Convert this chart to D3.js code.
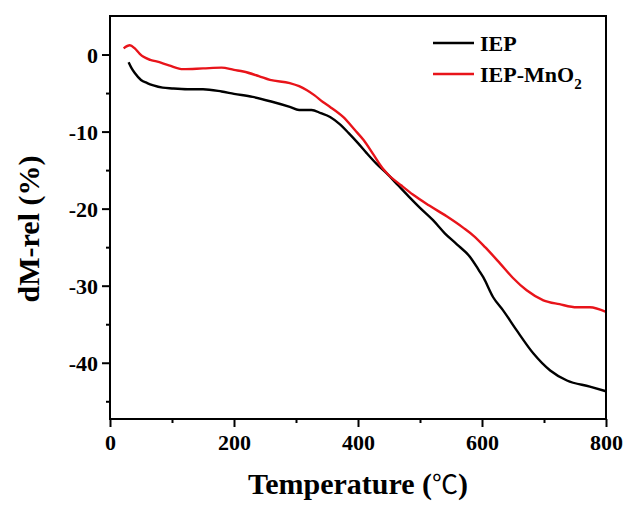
<!DOCTYPE html>
<html><head><meta charset="utf-8">
<script src="https://cdn.jsdelivr.net/npm/d3@7"></script>
<style>body{margin:0;background:#fff}text{font-family:"Liberation Serif","Times New Roman",serif;font-weight:bold}</style>
</head><body><svg id="c" width="627" height="507"></svg>
<script>
const iepT = [30,35,40,50,60,70,85,100,125,150,180,200,230,260,290,305,325,340,355,370,385,400,414,430,446,465,484,500,521,540,559,581,595,602,618,634,656,683,710,737,774,800];
const iepV = [-1.0,-1.8,-2.4,-3.3,-3.7,-4.0,-4.3,-4.4,-4.5,-4.5,-4.8,-5.1,-5.5,-6.1,-6.8,-7.2,-7.2,-7.6,-8.1,-9.0,-10.2,-11.5,-12.8,-14.2,-15.4,-17.0,-18.6,-19.9,-21.5,-23.2,-24.6,-26.3,-28.0,-28.9,-31.5,-33.2,-35.8,-38.8,-41.0,-42.3,-43.1,-43.7];
const mnT = [22,32,40,48,54,65,75,95,118,150,180,200,215,240,258,290,305,317,330,344,355,376,395,409,425,440,449,470,489,515,543,570,586,605,629,650,672,699,725,753,774,800];
const mnV = [0.8,1.2,0.8,0.1,-0.3,-0.7,-0.9,-1.4,-1.9,-1.8,-1.7,-2.0,-2.2,-2.8,-3.3,-3.7,-4.1,-4.6,-5.3,-6.2,-6.8,-8.1,-9.8,-11.1,-13.0,-14.8,-15.6,-17.0,-18.2,-19.6,-21.0,-22.5,-23.5,-25.0,-27.1,-29.0,-30.6,-31.9,-32.4,-32.8,-32.8,-33.4];
const xTicks = [0,200,400,600,800];
const yTicks = [0,-10,-20,-30,-40];
const seriesNames = ["IEP","IEP-MnO"];
const seriesColors = ["#000000","#e8141a"];

const svg = d3.select("#c");
const L=110,R=606,T=16,B=419;
const x = d3.scaleLinear().domain([0,800]).range([L,R]);
const y = d3.scaleLinear().domain([-47.3,5]).range([B,T]);

const line = d3.line().x(d=>x(d[0])).y(d=>y(d[1])).curve(d3.curveMonotoneX);
const s1 = iepT.map((t,i)=>[t,iepV[i]]);
const s2 = mnT.map((t,i)=>[t,mnV[i]]);
svg.append("path").datum(s1).attr("d",line).attr("fill","none").attr("stroke",seriesColors[0]).attr("stroke-width",2.4);
svg.append("path").datum(s2).attr("d",line).attr("fill","none").attr("stroke",seriesColors[1]).attr("stroke-width",2.4);

// frame
svg.append("rect").attr("x",L).attr("y",T).attr("width",R-L).attr("height",B-T).attr("fill","none").attr("stroke","#000").attr("stroke-width",2);

// axes
const fmt = d=>String(d);
svg.append("g").attr("transform",`translate(0,${B})`)
  .call(d3.axisBottom(x).tickValues(xTicks).tickSize(8).tickPadding(7).tickFormat(fmt));
svg.append("g").attr("transform",`translate(0,${B})`)
  .call(d3.axisBottom(x).tickValues([100,300,500,700]).tickSize(4).tickFormat(""));
const yAx = svg.append("g").attr("transform",`translate(${L},0)`)
  .call(d3.axisLeft(y).tickValues(yTicks).tickSize(8).tickPadding(4).tickFormat(fmt));
svg.append("g").attr("transform",`translate(${L},0)`)
  .call(d3.axisLeft(y).tickValues([-5,-15,-25,-35,-45]).tickSize(4).tickFormat(""));
svg.selectAll(".domain").remove();
svg.selectAll(".tick line").attr("stroke","#000").attr("stroke-width",2);
svg.selectAll(".tick text").attr("font-size",22).attr("font-family","Liberation Serif").attr("font-weight","bold").attr("fill","#000");
yAx.selectAll(".tick text").attr("dy","0.34em");

// titles
const xt = svg.append("text").attr("x",(L+R)/2).attr("y",494).attr("text-anchor","middle").attr("font-size",30);
xt.append("tspan").text("Temperature (");
xt.append("tspan").attr("font-family","Noto Sans CJK SC").attr("font-weight","normal").attr("font-size",26).text("\u2103");
xt.append("tspan").text(")");
svg.append("text").attr("transform","translate(39,229) rotate(-90)").attr("text-anchor","middle").attr("font-size",30).text("dM-rel (%)");

// legend
const lg = svg.append("g");
[43,74].forEach((ly,i)=>{
  lg.append("line").attr("x1",433).attr("x2",474).attr("y1",ly).attr("y2",ly).attr("stroke",seriesColors[i]).attr("stroke-width",2.4);
  const t = lg.append("text").attr("x",480).attr("y",ly+8).attr("font-size",22).text(seriesNames[i]);
  if(i===1) t.append("tspan").attr("font-size",15).attr("dy",7).text("2");
});
</script></body></html>
